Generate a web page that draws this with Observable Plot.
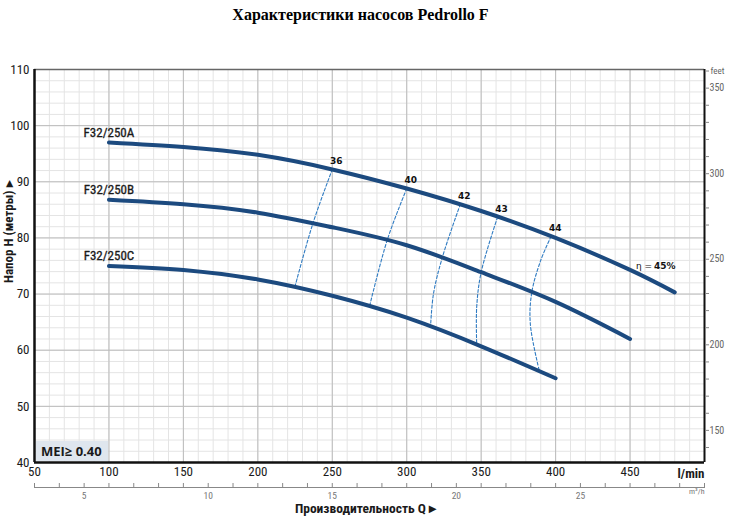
<!DOCTYPE html>
<html>
<head>
<meta charset="utf-8">
<script src="https://cdn.jsdelivr.net/npm/d3@7"></script>
<script src="https://cdn.jsdelivr.net/npm/@observablehq/plot@0.6"></script>
<style>
  body { margin: 0; background: #fff; }
  #wrap { position: relative; width: 740px; height: 521px; }
  #title { height: 30px; line-height: 30px; text-align: center; padding-right: 19px;
           font-family: "Liberation Serif", "DejaVu Serif", serif; font-weight: bold; font-size: 16px; color: #000; }
  #mei { position: absolute; left: 36px; top: 441px; width: 72px; height: 20px; background: #dfe6ee;
         font-family: "Open Sans", "DejaVu Sans", sans-serif; font-weight: bold; font-size: 13px;
         line-height: 20px; color: #1a1a1a; padding-left: 5px; box-sizing: border-box; }
</style>
</head>
<body>
<div id="wrap">
  <div id="title">Характеристики насосов Pedrollo F</div>
  <div id="chart"></div>
  <div id="mei">MEI≥ 0.40</div>
</div>
<script>
// ---- data ----
const models = ["F32/250A", "F32/250B", "F32/250C"];
const flowA = [100, 150, 200, 250, 300, 350, 400, 450, 480];
const headA = [97, 96.2, 94.8, 92.2, 88.8, 84.8, 80, 74.3, 70.3];
const flowB = [100, 150, 200, 250, 300, 350, 400, 450];
const headB = [86.8, 86.0, 84.5, 81.9, 78.7, 73.9, 68.6, 62];
const flowC = [100, 150, 200, 250, 300, 350, 400];
const headC = [75, 74.3, 72.6, 69.7, 65.8, 60.7, 55];

const effLevels = ["36", "40", "42", "43", "44"];
const isoFlow = [[250, 237, 225], [300, 287, 275], [336, 324, 318, 316], [361, 350, 347, 347], [397, 390, 384, 383, 389]];
const isoHead = [[92.2, 82.6, 71.4], [88.8, 79.7, 67.8], [86.0, 76.6, 70.1, 64.2], [83.7, 73.9, 67.7, 61.0], [80.3, 76.0, 70.3, 64.7, 56.4]];
const eta45 = {q: 450, h: 74.3};

const xTicks = [50, 100, 150, 200, 250, 300, 350, 400, 450];
const yTicks = [40, 50, 60, 70, 80, 90, 100, 110];
const feetTicks = d3.range(140, 361, 10);
const m3hTicks = d3.range(3, 31, 1);
const m3hLabels = [5, 10, 15, 20, 25];

// ---- tables ----
const curves = [];
[[flowA, headA], [flowB, headB], [flowC, headC]].forEach(([f, h], i) =>
  f.forEach((q, j) => curves.push({model: models[i], q, h: h[j]})));
const starts = models.map((m, i) => ({model: m, q: [flowA, flowB, flowC][i][0], h: [headA, headB, headC][i][0]}));
const iso = [];
effLevels.forEach((e, i) => isoFlow[i].forEach((q, j) => iso.push({eff: e, q, h: isoHead[i][j]})));
const isoLabels = effLevels.map((e, i) => ({eff: e, q: isoFlow[i][0], h: isoHead[i][0]}));

// ---- layout ----
const W = 740, H = 491, mt = 39, mb = 59, ml = 34, mr = 36;
const pxPerM = (H - mt - mb) / 70;
const below = px => 40 - px / pxPerM; // y value px pixels below the frame bottom
const FT = 3.28084;
const narrow = "'Liberation Sans Narrow', 'Roboto Condensed', 'Liberation Sans', sans-serif";

const chart = Plot.plot({
  width: W, height: H, marginTop: mt, marginBottom: mb, marginLeft: ml, marginRight: mr,
  x: {domain: [50, 500], label: null},
  y: {domain: [40, 110], label: null},
  style: {fontFamily: narrow, background: "#fff", overflow: "visible"},
  marks: [
    Plot.ruleX(d3.range(50, 501, 10), {stroke: "#e4e4e4"}),
    Plot.ruleY(d3.range(40, 111, 2), {stroke: "#e4e4e4"}),
    Plot.ruleX(d3.range(50, 501, 50), {stroke: "#bcbcbc"}),
    Plot.ruleY(d3.range(40, 111, 10), {stroke: "#bcbcbc"}),
    // frame
    Plot.ruleY([110], {stroke: "#666", strokeWidth: 1.5}),
    Plot.ruleX([500], {stroke: "#111", strokeWidth: 2}),
    Plot.ruleX([50], {stroke: "#111", strokeWidth: 2.5}),
    Plot.ruleY([40], {stroke: "#111", strokeWidth: 2.5}),
    // axes
    Plot.axisX(xTicks, {anchor: "bottom", tickSize: 0, tickPadding: 4, fontSize: 13, fill: "#1a1a1a", label: null}),
    Plot.axisY(yTicks, {anchor: "left", tickSize: 0, tickPadding: 5, fontSize: 13, fill: "#1a1a1a", label: null}),
    Plot.axisY(feetTicks.map(f => f / FT), {anchor: "right", tickSize: 4, tickPadding: 1, fontSize: 10, fill: "#666", stroke: "#888",
      tickFormat: d => { const f = Math.round(d * FT); return f % 50 === 0 ? String(f) : ""; }, label: null}),
    Plot.text(["feet"], {frameAnchor: "top-right", dx: 6, dy: -2, textAnchor: "start", fontSize: 9, fill: "#666"}),
    Plot.text(["l/min"], {frameAnchor: "bottom-right", dy: 15, textAnchor: "end", fontSize: 13, fontWeight: "bold", fill: "#1a1a1a"}),
    // secondary m3/h axis
    Plot.ruleY([below(25)], {x1: 50, x2: 500, stroke: "#888", strokeWidth: 1}),
    Plot.ruleX(m3hTicks, {x: d => d / 0.06, y1: below(21), y2: below(26), stroke: "#888"}),
    Plot.text(m3hLabels, {x: d => d / 0.06, y: below(25), dy: 8, fontSize: 9.5, fill: "#777"}),
    Plot.text(["m³/h"], {frameAnchor: "bottom-right", dy: 31, textAnchor: "end", fontSize: 8, fill: "#777"}),
    Plot.text(["Производительность Q ▸"], {frameAnchor: "bottom", dx: -4, dy: 50, fontSize: 13.5, fontWeight: "bold", fill: "#1a1a1a"}),
    Plot.text(["Напор H (метры) ▸"], {frameAnchor: "left", dx: -26, dy: 17, rotate: -90, fontSize: 13, fontWeight: "bold", fill: "#1a1a1a"}),
    // efficiency iso-lines
    Plot.line(iso, {x: "q", y: "h", z: "eff", curve: "catmull-rom", stroke: "#2f7bc2", strokeWidth: 1.1, strokeDasharray: "3,2"}),
    // pump curves
    Plot.line(curves, {x: "q", y: "h", z: "model", curve: "natural", stroke: "#1c4a7f", strokeWidth: 4, strokeLinecap: "round"}),
    Plot.text(starts, {x: "q", y: "h", text: "model", dy: -10, fontSize: 13, fill: "#1a1a1a", stroke: "#1a1a1a", strokeWidth: 0.3}),
    Plot.text(isoLabels, {x: "q", y: "h", text: "eff", dx: 4, dy: -8, fontSize: 9, fontWeight: "bold", fill: "#111",
      fontFamily: "'DejaVu Sans', sans-serif"}),
    Plot.text([eta45], {x: "q", y: "h", text: () => "η =", dx: 6, dy: -4, textAnchor: "start", fontSize: 9, fill: "#111",
      fontFamily: "'DejaVu Sans', sans-serif"}),
    Plot.text([eta45], {x: "q", y: "h", text: () => "45%", dx: 24, dy: -4, textAnchor: "start", fontSize: 9, fontWeight: "bold", fill: "#111",
      fontFamily: "'DejaVu Sans', sans-serif"})
  ]
});
document.getElementById("chart").append(chart);
</script>
</body>
</html>
